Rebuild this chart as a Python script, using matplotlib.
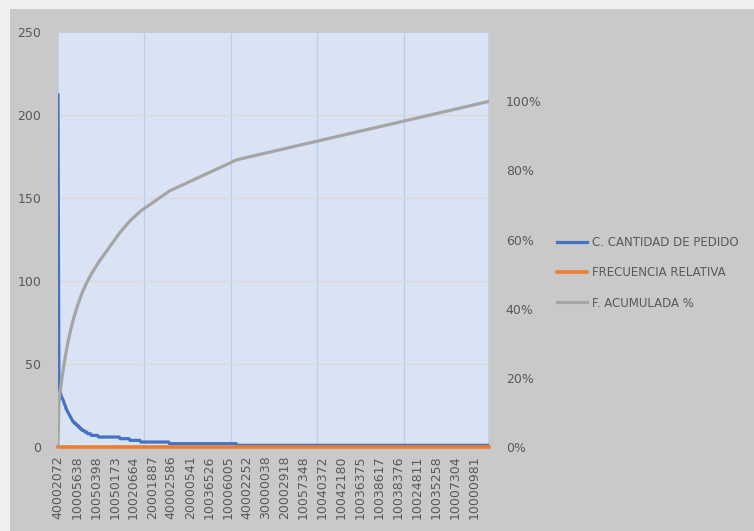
import matplotlib.pyplot as plt
from matplotlib.patches import Rectangle
import numpy as np

# label of every 21st category (codes shown on the x axis)
tick_codes = ['40002072', '10005638', '10050398', '10050173', '10020664',
              '20001887', '40002586', '20000541', '10036526', '10006005',
              '40002252', '30000038', '20002918', '10057348', '10040372',
              '10042180', '10036375', '10038617', '10038376', '10024811',
              '10035258', '10007304', '10000981']

# order quantity, sorted descending (first points read one by one)
head_qty = [212, 40, 34, 32, 30, 29, 28, 26, 25, 23, 22, 21, 20, 19, 18, 17,
            16, 15, 15, 14, 14, 13, 13, 12, 12, 11, 11, 10, 10, 10,
            9, 9, 9, 8, 8, 8, 8, 7, 7, 7, 7, 7, 7, 7, 7]
# flat steps of the tail: (value, number of items)
tail_steps = [(6, 24), (5, 11), (4, 12), (3, 32), (2, 75), (1, 281)]

qty = list(head_qty)
for v, n in tail_steps:
    qty += [v] * n
qty = np.array(qty, dtype=float)

total = qty.sum()
frec_rel = qty / total
# accumulated share before each item
acum = np.concatenate([[0], np.cumsum(qty)[:-1]]) / total

x = np.arange(len(qty))

fig = plt.figure(figsize=(7.54, 5.31), dpi=100)
fig.patch.set_facecolor('#f0f0f0')
fig.patches.append(Rectangle((10 / 754, 0), 1, 1 - 9 / 531, transform=fig.transFigure,
                             facecolor='#c9c9c9', edgecolor='none', zorder=-10))

ax = fig.add_axes([58 / 754, 1 - 447 / 531, 431 / 754, 415 / 531])
ax.set_facecolor('#dae3f3')
ax2 = ax.twinx()

ax.plot(x, qty, color='#4472c4', lw=2.3, zorder=3, label='C. CANTIDAD DE PEDIDO')
ax.plot(x, frec_rel, color='#ed7d31', lw=2.6, zorder=4, clip_on=False,
        label='FRECUENCIA RELATIVA')
ax2.plot(x, acum, color='#a5a5a5', lw=2.3, label='F. ACUMULADA %')

ax.set_xlim(0, len(qty) - 1)
ax.set_ylim(0, 250)
ax2.set_ylim(0, 1.2)

ax.set_yticks([0, 50, 100, 150, 200, 250])
ax2.set_yticks([0, 0.2, 0.4, 0.6, 0.8, 1.0])
ax2.set_yticklabels(['0%', '20%', '40%', '60%', '80%', '100%'])

ax.set_xticks(np.arange(0, 21 * len(tick_codes), 21))
ax.set_xticklabels(tick_codes, rotation=90)
ax.set_xticks(np.arange(96, 480, 96), minor=True)

ax.grid(axis='y', color='#d9d9d9', lw=0.9, zorder=0)
ax.grid(axis='x', which='minor', color='#b4cfee', lw=0.9, zorder=0)
ax.grid(axis='x', which='major', visible=False)
ax.set_axisbelow(True)

for a in (ax, ax2):
    for s in a.spines.values():
        s.set_visible(False)
    a.tick_params(length=0, colors='#595959', labelsize=9)
ax.tick_params(axis='y', pad=12)
ax.tick_params(axis='x', pad=6)
ax2.tick_params(axis='y', pad=12)
ax.tick_params(axis='x', which='minor', length=0)

ax.axhline(250, color='#b4cfee', lw=1.2, zorder=1)
ax.axvline(0, color='#b4cfee', lw=1.2, zorder=1)
ax.axvline(len(qty) - 1, color='#b4cfee', lw=1.2, zorder=1)

h1, l1 = ax.get_legend_handles_labels()
h2, l2 = ax2.get_legend_handles_labels()
fig.legend(h1 + h2, l1 + l2, loc='center left', bbox_to_anchor=(552 / 754, 1 - 273 / 531),
           frameon=False, fontsize=8.5, labelcolor='#595959', handlelength=2.6,
           handletextpad=0.35, labelspacing=1.45, borderaxespad=0)

fig.savefig('out.png', dpi=100, facecolor=fig.get_facecolor())
